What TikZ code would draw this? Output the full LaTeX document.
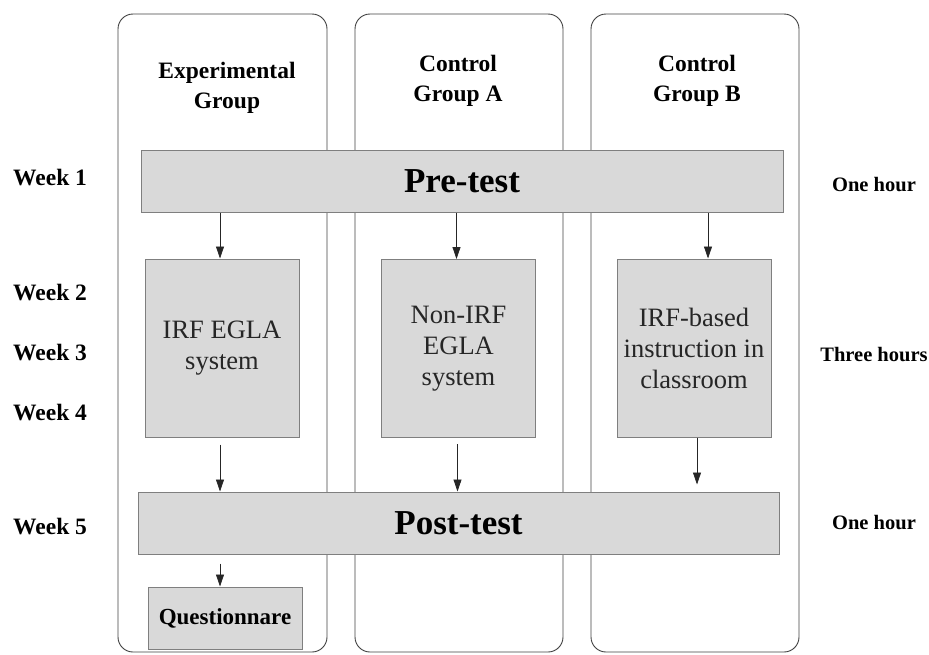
\documentclass[tikz,border=0pt]{standalone}
\usepackage{fontspec}
\setmainfont{Liberation Serif}
\usetikzlibrary{arrows.meta}
\definecolor{boxgray}{HTML}{D9D9D9}
\definecolor{edgegray}{HTML}{7F7F7F}
\definecolor{txtgray}{HTML}{262626}
\tikzset{
  col/.style={draw=black!75, line width=0.9pt, rounded corners=15pt, minimum width=208pt, minimum height=638pt, inner sep=0pt},
  bar/.style={draw=edgegray, fill=boxgray, line width=1pt, minimum width=642pt, minimum height=62pt, inner sep=0pt, font=\fontsize{35}{38}\selectfont\bfseries},
  treat/.style={draw=edgegray, fill=boxgray, line width=1pt, minimum width=154pt, minimum height=178pt, inner sep=0pt, align=center, text=txtgray, font=\fontsize{26.5}{31}\selectfont},
  quest/.style={draw=edgegray, fill=boxgray, line width=1pt, minimum width=154pt, minimum height=62pt, inner sep=0pt, font=\fontsize{23}{26}\selectfont\bfseries},
  head/.style={align=center, font=\fontsize{23.5}{29.5}\selectfont\bfseries},
  week/.style={anchor=west, inner sep=0pt, font=\fontsize{23.5}{26}\selectfont\bfseries},
  dur/.style={inner sep=0pt, font=\fontsize{20.5}{23}\selectfont\bfseries},
  arr/.style={-{Triangle[length=12pt,width=8pt]}, line width=0.8pt, black!85}
}
\begin{document}
\begin{tikzpicture}[x=1pt,y=-1pt]
\useasboundingbox (0,0) rectangle (929,654);
% columns
\node[col, minimum width=209pt] (c1) at (222.5,333) {};
\node[col] (c2) at (459,333) {};
\node[col] (c3) at (695,333) {};
% headers
\node[head] (h1) at (227,88) {Experimental\\Group};
\node[head] (h2) at (458,81) {Control\\Group A};
\node[head] (h3) at (697,81) {Control\\Group B};
% bars
\node[bar] (pre) at (462,181) {Pre-test};
\node[bar, minimum width=641pt] (post) at (458.5,523) {Post-test};
% treatments
\node[treat] (b1) at (222,348) {\raisebox{-4pt}{\parbox{150pt}{\centering IRF EGLA\\system}}};
\node[treat] (b2) at (458.5,348.5) {Non-IRF\\EGLA\\system};
\node[treat] (b3) at (694,348) {IRF-based\\instruction in\\classroom};
\node[quest] (q) at (225,618) {Questionnare};
% arrows
\draw[arr] ([xshift=-2pt]b1.north |- pre.south) -- ([xshift=-2pt]b1.north);
\draw[arr] ([xshift=-2pt]b2.north |- pre.south) -- ([xshift=-2pt]b2.north);
\draw[arr] ([xshift=14pt]b3.north |- pre.south) -- ([xshift=14pt]b3.north);
\draw[arr, shorten <=7pt] ([xshift=-2pt]b1.south) -- ([xshift=-2pt]b1.south |- post.north);
\draw[arr, shorten <=6pt] ([xshift=-1pt]b2.south) -- ([xshift=-1pt]b2.south |- post.north);
\draw[arr, shorten >=7pt] ([xshift=3pt]b3.south) -- ([xshift=3pt]b3.south |- post.north);
\draw[arr, shorten <=9pt] ([xshift=-5pt]q.north |- post.south) -- ([xshift=-5pt]q.north);
% week labels
\node[week] (w1) at (13,178) {Week 1};
\node[week] (w2) at (13,293) {Week 2};
\node[week] (w3) at (13,353) {Week 3};
\node[week] (w4) at (13,413) {Week 4};
\node[week] (w5) at (13,527) {Week 5};
% durations
\node[dur] (d1) at (874,185) {One hour};
\node[dur] (d2) at (874,355) {Three hours};
\node[dur] (d3) at (874,523) {One hour};
\end{tikzpicture}
\end{document}
